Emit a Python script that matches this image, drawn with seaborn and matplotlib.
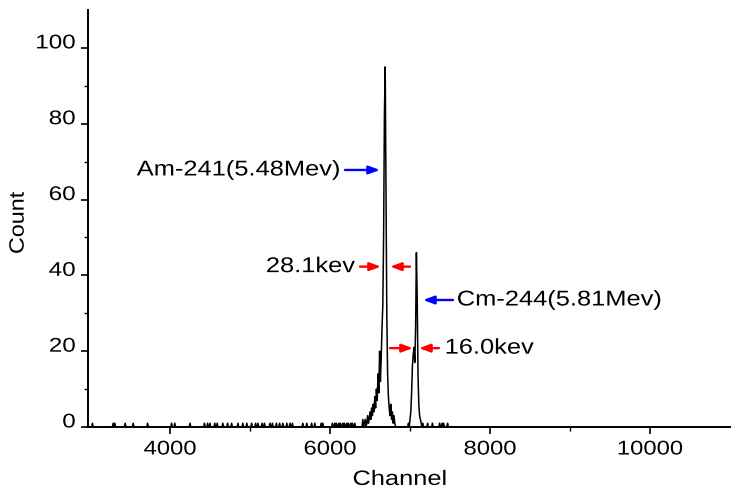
import numpy as np
import pandas as pd
import matplotlib
matplotlib.use("Agg")
import matplotlib.pyplot as plt
import seaborn as sns
from matplotlib.patheffects import AbstractPathEffect
from matplotlib.transforms import Affine2D

# ---- data ----
# sparse single-count background hits (channel numbers)
noise_channels = [3035, 3290, 3310, 3440, 3540, 3720, 4020, 4060, 4250, 4430, 4470,
                  4500, 4560, 4590, 4660, 4720, 4770, 4850, 4910, 4960, 5020, 5070,
                  5100, 5150, 5180, 5250, 5280, 5330, 5370, 5410, 5460, 5500, 5530,
                  5660, 5710, 5770, 5810, 5890, 5910, 6030, 6060, 6080, 6110, 6130,
                  6160, 6180, 6210, 6230, 6260, 6280, 6310, 7160, 7220, 7280, 7370,
                  7400, 7420, 7470]
noise_counts = [1] * len(noise_channels)

# Am-241 peak region
am_channels = [6400, 6410, 6420, 6430, 6440, 6450, 6460, 6470, 6480, 6490, 6500, 6510,
               6520, 6530, 6540, 6550, 6560, 6570, 6580, 6590, 6600, 6610, 6620, 6630,
               6640, 6650, 6660, 6670, 6680, 6690, 6700, 6710, 6720, 6730, 6740, 6750,
               6760, 6770, 6780, 6790, 6800, 6810, 6820, 6830]
am_counts = [0, 2, 0, 1, 2, 0, 1, 3, 1, 2, 4, 2,
             5, 3, 6, 4, 8, 5, 10, 7, 14, 9, 20, 12,
             18, 26, 32, 50, 82, 95, 64, 30, 14, 8, 5, 3,
             6, 2, 4, 1, 3, 1, 0, 0]

# Cm-244 peak region
cm_channels = [6970, 6980, 6990, 7000, 7010, 7020, 7030, 7040, 7050, 7060, 7070, 7080,
               7090, 7100, 7110, 7120, 7130, 7140, 7150]
cm_counts = [0, 1, 0, 2, 4, 9, 16, 19, 21, 17, 26, 46,
             34, 14, 6, 3, 2, 1, 0]

x_ticks = [4000, 6000, 8000, 10000]
y_ticks = [0, 20, 40, 60, 80, 100]

# ---- assemble spectrum on a channel grid ----
grid = np.arange(2980, 11001, 10)
counts = np.zeros(len(grid))
for c, v in zip(noise_channels, noise_counts):
    counts[np.argmin(np.abs(grid - c))] = v
for c, v in zip(am_channels + cm_channels, am_counts + cm_counts):
    counts[np.argmin(np.abs(grid - c))] = v
df = pd.DataFrame({"Channel": grid, "Count": counts})


class Stretch(AbstractPathEffect):
    """Widen glyph outlines (the reference font is set wide)."""

    def __init__(self, sx=1.0, sy=1.0, anchor="center", dx=0.0, dy=0.0):
        super().__init__()
        self.sx, self.sy, self.anchor, self.dx, self.dy = sx, sy, anchor, dx, dy

    def draw_path(self, renderer, gc, tpath, affine, rgbFace=None):
        bb = tpath.get_extents(affine)
        if self.anchor == "left":
            cx = bb.x0
        elif self.anchor == "right":
            cx = bb.x1
        else:
            cx = 0.5 * (bb.x0 + bb.x1)
        cy = 0.5 * (bb.y0 + bb.y1)
        t = affine + Affine2D().translate(-cx, -cy).scale(self.sx, self.sy) \
            .translate(cx + self.dx, cy + self.dy)
        renderer.draw_path(gc, tpath, t, rgbFace)


sns.set_theme(style="ticks")
plt.rcParams["font.family"] = ["Liberation Sans", "DejaVu Sans"]
for k in ["text.color", "axes.labelcolor", "xtick.color", "ytick.color", "axes.edgecolor"]:
    plt.rcParams[k] = "black"

fig = plt.figure(figsize=(7.31, 4.96), dpi=100)
ax = fig.add_axes([88 / 731, 69 / 496, 642 / 731, 417 / 496])

sns.lineplot(data=df, x="Channel", y="Count", ax=ax, color="black",
             linewidth=1.1, estimator=None, sort=True)

ax.set_xlim(2975, 11000)
ax.set_ylim(0, 110)
ax.set_xticks(x_ticks)
ax.set_yticks(y_ticks)
ax.set_xticks([5000, 7000, 9000], minor=True)
ax.set_yticks([10, 30, 50, 70, 90], minor=True)
ax.tick_params(axis="both", which="major", direction="out", length=5, width=1.2,
               labelsize=14.3, colors="black")
ax.tick_params(axis="both", which="minor", direction="out", length=3, width=1.0)
ax.tick_params(axis="y", pad=4)
ax.tick_params(axis="x", pad=4)
for s in ["top", "right"]:
    ax.spines[s].set_visible(False)
for s in ["left", "bottom"]:
    ax.spines[s].set_linewidth(1.4)
    ax.spines[s].set_color("black")

for t in ax.xaxis.get_major_ticks():
    t.label1.set_path_effects([Stretch(sx=1.2, anchor="center")])
for t in ax.yaxis.get_major_ticks():
    t.label1.set_path_effects([Stretch(sx=1.22, anchor="right", dy=7)])

ax.set_xlabel("Channel", fontsize=15)
ax.set_ylabel("Count", fontsize=15)
ax.xaxis.set_label_coords(0.486, -0.103)
ax.yaxis.set_label_coords(-0.094, 0.49)
ax.xaxis.label.set_path_effects([Stretch(sx=1.22, anchor="center")])
ax.yaxis.label.set_path_effects([Stretch(sy=1.12, anchor="center")])

fs = 15.4
blue_kw = dict(arrowstyle="-|>,head_length=0.55,head_width=0.2", color="#0000ff", lw=1.7,
               shrinkA=0, shrinkB=0)
red_kw = dict(arrowstyle="-|>,head_length=0.55,head_width=0.2", color="#ff0000", lw=1.7,
              shrinkA=0, shrinkB=0)
pe_r = [Stretch(sx=1.19, anchor="right")]
pe_l = [Stretch(sx=1.19, anchor="left")]

# Am-241 label and arrow
ax.annotate("", xy=(6625, 67.8), xytext=(6187, 67.8), arrowprops=blue_kw)
ax.text(6125, 67.8, "Am-241(5.48Mev)", ha="right", va="center", fontsize=fs,
        path_effects=pe_r)

# 28.1 keV FWHM arrows
ax.annotate("", xy=(6637, 42.3), xytext=(6375, 42.3), arrowprops=red_kw)
ax.annotate("", xy=(6750, 42.3), xytext=(7000, 42.3), arrowprops=red_kw)
ax.text(6312, 42.3, "28.1kev", ha="right", va="center", fontsize=fs, path_effects=pe_r)

# Cm-244 label and arrow
ax.annotate("", xy=(7162, 33.5), xytext=(7537, 33.5), arrowprops=blue_kw)
ax.text(7587, 33.5, "Cm-244(5.81Mev)", ha="left", va="center", fontsize=fs,
        path_effects=pe_l)

# 16.0 keV FWHM arrows
ax.annotate("", xy=(7037, 20.8), xytext=(6750, 20.8), arrowprops=red_kw)
ax.annotate("", xy=(7112, 20.8), xytext=(7362, 20.8), arrowprops=red_kw)
ax.text(7437, 20.8, "16.0kev", ha="left", va="center", fontsize=fs, path_effects=pe_l)

fig.savefig("out.png", dpi=100)
